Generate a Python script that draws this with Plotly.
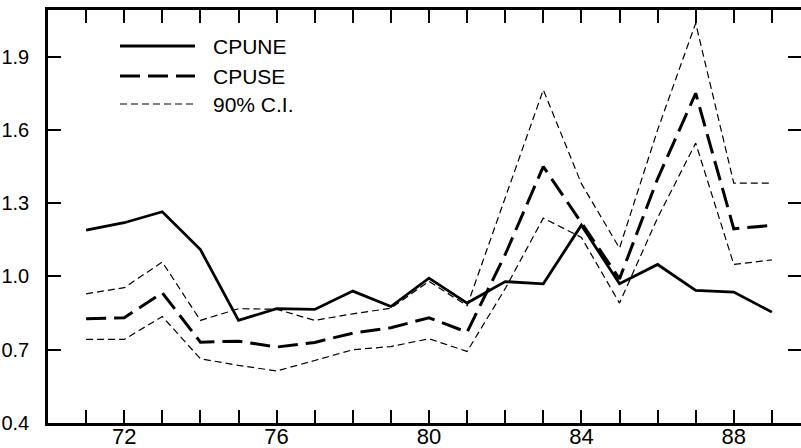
import plotly.graph_objects as go

years = list(range(71, 90))
cpune = [1.19, 1.22, 1.265, 1.11, 0.82, 0.868, 0.865, 0.94, 0.877, 0.993,
         0.891, 0.979, 0.97, 1.21, 0.97, 1.049, 0.943, 0.936, 0.854]
cpuse = [0.827, 0.831, 0.933, 0.731, 0.735, 0.711, 0.73, 0.768, 0.79, 0.831,
         0.772, 1.09, 1.45, 1.22, 0.99, 1.40, 1.75, 1.195, 1.209]
ci_upper = [0.929, 0.954, 1.059, 0.82, 0.868, 0.866, 0.82, 0.847, 0.87, 0.98,
            0.88, 1.32, 1.764, 1.38, 1.116, 1.60, 2.037, 1.382, 1.382]
ci_lower = [0.742, 0.742, 0.836, 0.663, 0.636, 0.613, 0.656, 0.70, 0.713, 0.745,
            0.693, 0.95, 1.239, 1.16, 0.891, 1.24, 1.546, 1.049, 1.068]

x_tick_vals = list(range(71, 90))
x_tick_labels = ["72", "76", "80", "84", "88"]
y_tick_vals = [0.4, 0.7, 1.0, 1.3, 1.6, 1.9]
y_tick_labels = ["0.4", "0.7", "1.0", "1.3", "1.6", "1.9"]

legend_names = ["CPUNE", "CPUSE", "90% C.I."]

FONT = "Liberation Sans, Arial, sans-serif"
ci_style = dict(color="black", width=1.2, dash="7px,4px")

fig = go.Figure()
fig.add_trace(go.Scatter(x=years, y=ci_upper, mode="lines", line=ci_style, showlegend=False))
fig.add_trace(go.Scatter(x=years, y=ci_lower, mode="lines", line=ci_style, showlegend=False))
fig.add_trace(go.Scatter(x=years, y=cpuse, mode="lines",
                         line=dict(color="black", width=3, dash="20px,8px"), showlegend=False))
fig.add_trace(go.Scatter(x=years, y=cpune, mode="lines",
                         line=dict(color="black", width=2.8), showlegend=False))

ticktext = [str(v) if str(v) in x_tick_labels else "" for v in x_tick_vals]

W, H = 801, 448
L, T, B = 48, 10, 25
pw, ph = W - L, H - T - B

def px(xp):
    return (xp - L) / pw

def py(yp):
    return (H - B - yp) / ph

styles = [dict(color="black", width=2.8),
          dict(color="black", width=3, dash="20px,8px"),
          dict(color="black", width=1.2, dash="7px,4px")]
rows = [46, 76, 104]
for name, st, yy in zip(legend_names, styles, rows):
    fig.add_shape(type="line", xref="paper", yref="paper",
                  x0=px(120), x1=px(195), y0=py(yy), y1=py(yy), line=st)
    fig.add_annotation(xref="paper", yref="paper", x=px(211), y=py(yy),
                       text=name, showarrow=False, xanchor="left", yanchor="middle",
                       font=dict(family=FONT, size=21, color="black"))

fig.update_layout(
    width=W, height=H,
    margin=dict(l=L, r=0, t=T, b=B, pad=0, autoexpand=False),
    paper_bgcolor="white", plot_bgcolor="white",
    font=dict(family=FONT, size=22, color="black"),
    xaxis=dict(range=[70, 70 + pw / 38.1], tickvals=x_tick_vals, ticktext=ticktext,
               ticks="inside", ticklen=13, tickwidth=1.5, tickcolor="black",
               showline=True, linewidth=2.5, linecolor="black", mirror="ticks",
               showgrid=False, zeroline=False, automargin=False,
               ticklabelstandoff=-8),
    yaxis=dict(range=[0.4, 2.091], tickvals=y_tick_vals, ticktext=y_tick_labels,
               ticks="inside", ticklen=13, tickwidth=1.5, tickcolor="black",
               showline=True, linewidth=2.5, linecolor="black", mirror="ticks",
               showgrid=False, zeroline=False, ticklabelstandoff=12, automargin=False,
               tickfont=dict(family=FONT, size=20, color="black")),
)

fig.write_html("out.html", config={"displayModeBar": False},
               post_script="document.body.style.margin='0px';"
                           "document.body.style.overflow='hidden';")
